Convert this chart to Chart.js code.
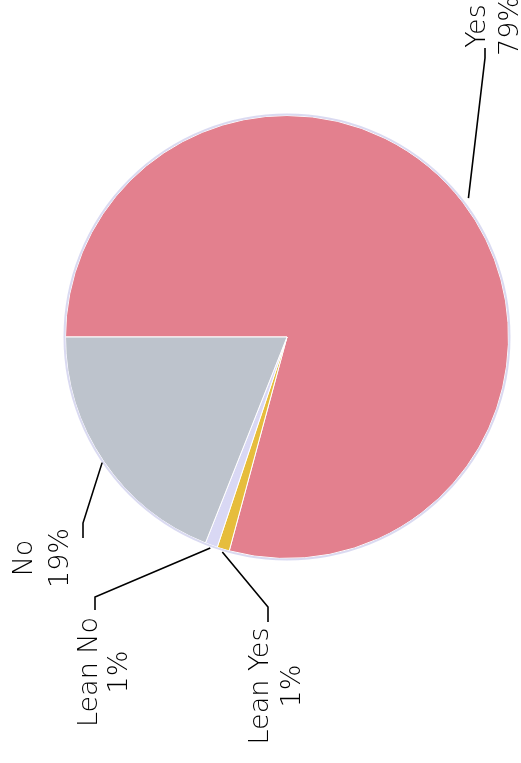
<!DOCTYPE html>
<html>
<head>
<meta charset="utf-8">
<script src="https://cdn.jsdelivr.net/npm/chart.js@4"></script>
<style>
  html, body { margin: 0; padding: 0; background: #fff; }
  canvas { display: block; }
</style>
</head>
<body>
<canvas id="pieChart" width="521" height="763"></canvas>
<script>
// data
const categories = ['Yes', 'Lean Yes', 'Lean No', 'No'];
const shares = [79.2, 0.9, 0.9, 19.0];
const sliceColors = ['#e3808e', '#e6bd3c', '#d9d8f4', '#bdc3cc'];

// where each (rotated) label sits: elbow of the leader line, first baseline, centre along the text
const labelLayout = [
  { gap: 7, elbow: [485, 58], end: [485, 48], base: 485, mid: 26, lh: 33 },
  { gap: 3, elbow: [268, 607], end: [268, 622], base: 268, mid: 686, lh: 32 },
  { gap: 3, elbow: [95, 597], end: [95, 610], base: 97, mid: 672, lh: 30 },
  { gap: 2, elbow: [83, 523], end: [83, 538], base: 32, mid: 558, lh: 36 }
];

const leaderLabels = {
  id: 'leaderLabels',
  afterDatasetsDraw(chart) {
    const ctx = chart.ctx;
    const arcs = chart.getDatasetMeta(0).data;
    ctx.save();
    // faint rim round the pie
    const a0 = arcs[0];
    ctx.beginPath();
    ctx.arc(a0.x, a0.y, a0.outerRadius + 1, 0, Math.PI * 2);
    ctx.strokeStyle = 'rgba(214,214,240,0.9)';
    ctx.lineWidth = 2;
    ctx.stroke();

    arcs.forEach((arc, i) => {
      const lay = labelLayout[i];
      const ang = (arc.startAngle + arc.endAngle) / 2;
      const r = arc.outerRadius + lay.gap;
      ctx.beginPath();
      ctx.moveTo(arc.x + Math.cos(ang) * r, arc.y + Math.sin(ang) * r);
      ctx.lineTo(lay.elbow[0], lay.elbow[1]);
      ctx.lineTo(lay.end[0], lay.end[1]);
      ctx.strokeStyle = '#000';
      ctx.lineWidth = 1.6;
      ctx.stroke();

      const lines = [categories[i], Math.round(shares[i]) + '%'];
      ctx.fillStyle = '#000';
      ctx.font = "200 27px 'DejaVu Sans'";
      ctx.textAlign = 'center';
      ctx.textBaseline = 'alphabetic';
      lines.forEach((t, k) => {
        ctx.save();
        ctx.translate(lay.base + k * lay.lh, lay.mid);
        ctx.rotate(-Math.PI / 2);
        ctx.fillText(t, 0, 0);
        ctx.restore();
      });
    });
    ctx.restore();
  }
};

const pieChart = new Chart(document.getElementById('pieChart').getContext('2d'), {
  type: 'pie',
  data: {
    labels: categories,
    datasets: [{
      data: shares,
      backgroundColor: sliceColors,
      borderColor: '#ffffff',
      borderWidth: 1
    }]
  },
  options: {
    responsive: false,
    animation: false,
    rotation: -90,
    layout: { padding: { left: 65, right: 12, top: 115, bottom: 204 } },
    plugins: {
      legend: { display: false },
      tooltip: { enabled: false }
    }
  },
  plugins: [leaderLabels]
});
</script>
</body>
</html>
